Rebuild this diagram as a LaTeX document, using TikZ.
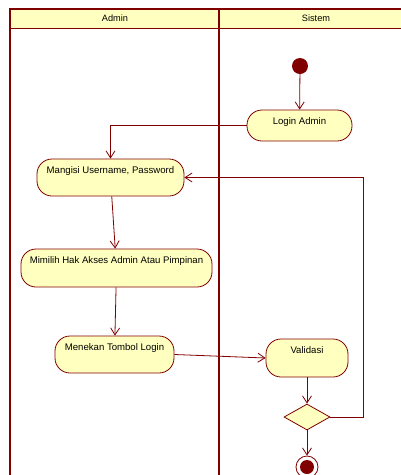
\documentclass[tikz,border=0pt]{standalone}
\usepackage{fontspec}
\setmainfont{Liberation Sans}
\usetikzlibrary{arrows.meta, shapes.geometric}
\definecolor{umlred}{RGB}{128,0,0}
\definecolor{umlfill}{RGB}{255,255,192}

\begin{document}
\begin{tikzpicture}[x=1pt, y=-1pt, font=\fontsize{9.6}{11}\selectfont,
  act/.style={draw=umlred, fill=umlfill, line width=0.8pt, rounded corners=15pt, inner sep=0pt, text height=14pt},
  flow/.style={draw=umlred, line width=0.8pt, -{Straight Barb[length=7pt,width=9pt]}}]
\clip (0,0) rectangle (401,475);
\fill[white] (0,0) rectangle (401,475);
\fill[umlfill] (10,9) rectangle (413,28);
\draw[umlred, line width=1.5pt] (10,9) rectangle (413,490);
\draw[umlred, line width=1pt] (10,28) -- (413,28);
\draw[umlred, line width=2.5pt] (219,9) -- (219,490);
\node[font=\fontsize{9.2}{11}\selectfont] (admin) at (115,18.5) {Admin};
\node[font=\fontsize{9.2}{11}\selectfont] (sistem) at (316,18.5) {Sistem};

\node[circle, fill=umlred, minimum size=16pt, inner sep=0pt] (start) at (300,66) {};
\node[act, minimum width=105pt, text depth=17pt] (login) at (299.5,125.5) {Login Admin};
\node[act, minimum width=147pt, text depth=23pt] (mangisi) at (110.5,177.5) {Mangisi Username, Password};
\node[act, minimum width=191pt, text depth=24pt] (mimilih) at (116.5,268) {Mimilih Hak Akses Admin Atau Pimpinan};
\node[act, minimum width=119pt, text depth=23pt] (menekan) at (114.5,354.5) {Menekan Tombol Login};
\node[act, minimum width=82pt, text depth=24pt] (validasi) at (307,358) {Validasi};
\node[diamond, draw=umlred, fill=umlfill, line width=0.8pt, minimum width=46pt, minimum height=26pt, inner sep=0pt] (dec) at (307,417) {};
\node[circle, draw=umlred, fill=white, line width=0.8pt, minimum size=22pt, inner sep=0pt] (end) at (307,467) {};
\fill[umlred] (end.center) circle (7pt);
\coordinate (back) at (363,177.5);

\draw [flow](start) -- (login);
\draw [flow](login.west) -| (mangisi.north);
\draw [flow](mangisi) -- (mimilih);
\draw [flow](mimilih) -- (menekan);
\draw [flow](menekan.east) -- (validasi.west);
\draw [flow](validasi) -- (dec);
\draw [flow](dec) -- (end);
\draw [flow](dec.east) -| (back) -- (mangisi.east);
\end{tikzpicture}
\end{document}
